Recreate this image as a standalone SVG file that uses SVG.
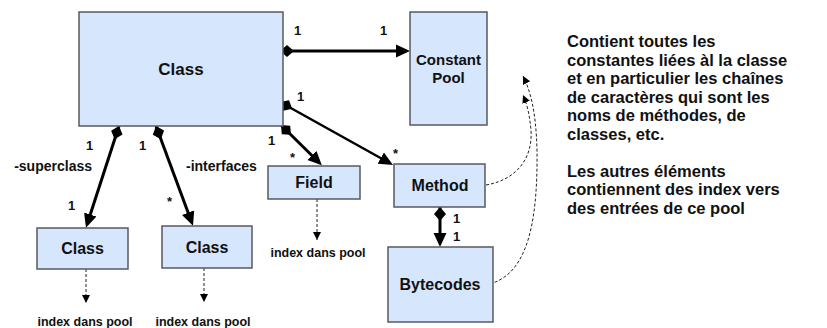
<svg xmlns="http://www.w3.org/2000/svg" width="827" height="328" viewBox="0 0 827 328">
  <style>
    .box { fill: #d6e6fc; stroke: #555a60; stroke-width: 1.5; }
    .t { font-family: "Liberation Sans", Arial, Helvetica, sans-serif; font-weight: bold; fill: #111; }
    .name { font-size: 16px; text-anchor: middle; }
    .mult { font-size: 13px; }
    .role { font-size: 14px; }
    .idx { font-size: 12.5px; text-anchor: middle; }
    .note { font-size: 16.5px; }
    .assoc { stroke: #000; fill: none; stroke-width: 3; }
    .dash { stroke: #222; fill: none; stroke-width: 1; stroke-dasharray: 3 2; }
  </style>
  <defs>
    <marker id="diamond" markerUnits="userSpaceOnUse" markerWidth="16" markerHeight="14" viewBox="0 -7 16 14" refX="0" refY="0" orient="auto">
      <path d="M0,0 L7,-6 L14,0 L7,6 z" fill="#000"/>
    </marker>
    <marker id="arrow" markerUnits="userSpaceOnUse" markerWidth="16" markerHeight="14" viewBox="0 -7 16 14" refX="10" refY="0" orient="auto">
      <path d="M0,-6.5 L14,0 L0,6.5 z" fill="#000"/>
    </marker>
    <marker id="arrowSmall" markerUnits="userSpaceOnUse" markerWidth="10" markerHeight="10" viewBox="0 -5 10 10" refX="8" refY="0" orient="auto">
      <path d="M0,-4 L8,0 L0,4 z" fill="#000"/>
    </marker>
  </defs>

  <!-- associations and references -->
  <g id="connectors">
    <path class="assoc" d="M280,51 L406,51" marker-start="url(#diamond)" marker-end="url(#arrow)"/>
    <path class="assoc" style="stroke-width:2.5" d="M280,102 L389.5,163" marker-start="url(#diamond)" marker-end="url(#arrow)"/>
    <path class="assoc" d="M281,125 L319,162.5" marker-start="url(#diamond)" marker-end="url(#arrow)"/>
    <path class="assoc" d="M119,126 L87.2,224" marker-start="url(#diamond)" marker-end="url(#arrow)"/>
    <path class="assoc" d="M156,126 L191.6,222" marker-start="url(#diamond)" marker-end="url(#arrow)"/>
    <path class="assoc" d="M440,207 L440,243" marker-start="url(#diamond)" marker-end="url(#arrow)"/>

    <path class="dash" d="M486,185 C515,180 533,160 531,130 C529,110 526,102 523,95" marker-end="url(#arrowSmall)"/>
    <path class="dash" d="M485,285 C525,278 538,230 537,150 C536,110 530,90 523,76" marker-end="url(#arrowSmall)"/>

    <path class="dash" d="M86,269 L86,303" marker-end="url(#arrowSmall)"/>
    <path class="dash" d="M204,268 L204,302" marker-end="url(#arrowSmall)"/>
    <path class="dash" d="M317,199 L317,240" marker-end="url(#arrowSmall)"/>

    <text class="t mult" x="294" y="35">1</text>
    <text class="t mult" x="380" y="35">1</text>
    <text class="t mult" x="297" y="101">1</text>
    <text class="t mult" x="393" y="158">*</text>
    <text class="t mult" x="268" y="145">1</text>
    <text class="t mult" x="290" y="162">*</text>
    <text class="t mult" x="86" y="150">1</text>
    <text class="t mult" x="139" y="150">1</text>
    <text class="t mult" x="68" y="210">1</text>
    <text class="t mult" x="167" y="206">*</text>
    <text class="t mult" x="453" y="223">1</text>
    <text class="t mult" x="453" y="241">1</text>
    <text class="t role" x="92" y="171" text-anchor="end">-superclass</text>
    <text class="t role" x="186" y="171">-interfaces</text>

    <text class="t idx" x="85" y="326">index dans pool</text>
    <text class="t idx" x="203" y="326">index dans pool</text>
    <text class="t idx" x="318" y="257">index dans pool</text>
  </g>

  <g id="class-main">
    <rect class="box" x="79" y="12" width="204" height="114"/>
    <text class="t name" x="181" y="75" style="font-size:17px">Class</text>
  </g>
  <g id="constant-pool">
    <rect class="box" x="410" y="12" width="77" height="113"/>
    <text class="t name" x="448.5" y="65" style="font-size:15px">Constant</text>
    <text class="t name" x="448.5" y="83" style="font-size:15px">Pool</text>
  </g>
  <g id="field">
    <rect class="box" x="268" y="166" width="92" height="33"/>
    <text class="t name" x="314" y="188">Field</text>
  </g>
  <g id="method">
    <rect class="box" x="394" y="164" width="91" height="43"/>
    <text class="t name" x="440" y="191">Method</text>
  </g>
  <g id="bytecodes">
    <rect class="box" x="388" y="247" width="105" height="75"/>
    <text class="t name" x="440" y="290">Bytecodes</text>
  </g>
  <g id="superclass">
    <rect class="box" x="37" y="228" width="91" height="41"/>
    <text class="t name" x="82.5" y="254">Class</text>
  </g>
  <g id="interface">
    <rect class="box" x="162" y="226" width="90" height="42"/>
    <text class="t name" x="207" y="253">Class</text>
  </g>

  <g id="note">
    <text class="t note" x="567" y="47">Contient toutes les</text>
    <text class="t note" x="567" y="65.5">constantes liées  àl la classe</text>
    <text class="t note" x="567" y="84">et en particulier les chaînes</text>
    <text class="t note" x="567" y="102.5">de caractères qui sont les</text>
    <text class="t note" x="567" y="121">noms de méthodes, de</text>
    <text class="t note" x="567" y="139.5">classes, etc.</text>
    <text class="t note" x="567" y="176.5">Les autres éléments</text>
    <text class="t note" x="567" y="195">contiennent des index vers</text>
    <text class="t note" x="567" y="213.5">des entrées de ce pool</text>
  </g>
</svg>
